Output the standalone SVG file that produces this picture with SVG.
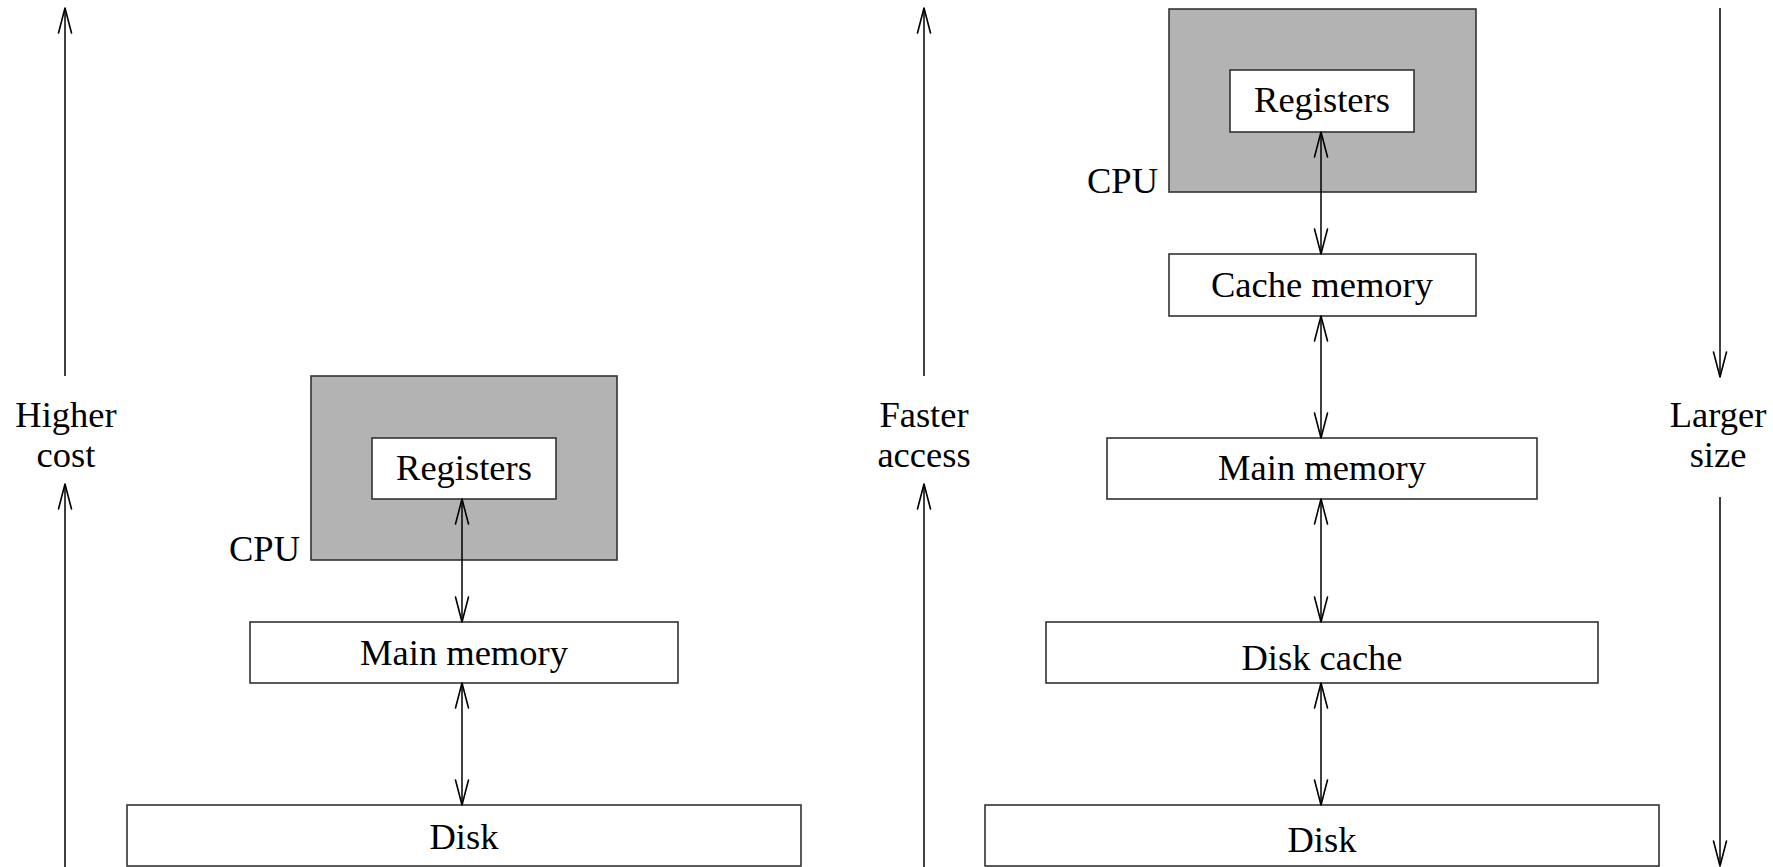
<svg xmlns="http://www.w3.org/2000/svg" width="1773" height="867" viewBox="0 0 1773 867">
<defs>
<marker id="ah" markerUnits="userSpaceOnUse" markerWidth="30" markerHeight="16" refX="0" refY="0" orient="auto-start-reverse" overflow="visible">
<path d="M-25,-6.5 L0,0 L-25,6.5" fill="none" stroke="#000" stroke-width="1.6" stroke-linejoin="round" stroke-linecap="round"/>
</marker>
</defs>
<style>
.box{fill:#fff;stroke:#333;stroke-width:1.6}
.cpu{fill:#b3b3b3;stroke:#333;stroke-width:1.6}
.t{font-family:"Liberation Serif","Times New Roman",serif;font-size:36.5px;fill:#000;text-anchor:middle}
.ts{font-family:"Liberation Serif","Times New Roman",serif;font-size:36.5px;fill:#000;text-anchor:end}
.c{stroke:#000;stroke-width:1.5;fill:none}
</style>
<rect width="1773" height="867" fill="#fff"/>

<g id="axis-cost">
<line class="c" x1="65" y1="376" x2="65" y2="8" marker-end="url(#ah)"/>
<line class="c" x1="65" y1="867" x2="65" y2="484" marker-end="url(#ah)"/>
<text class="t" x="66" y="427">Higher</text>
<text class="t" x="66" y="467">cost</text>
</g>

<g id="axis-access">
<line class="c" x1="924" y1="376" x2="924" y2="8" marker-end="url(#ah)"/>
<line class="c" x1="924" y1="867" x2="924" y2="484" marker-end="url(#ah)"/>
<text class="t" x="924" y="427">Faster</text>
<text class="t" x="924" y="467">access</text>
</g>

<g id="axis-size">
<line class="c" x1="1720" y1="8" x2="1720" y2="377" marker-end="url(#ah)"/>
<line class="c" x1="1720" y1="497" x2="1720" y2="866" marker-end="url(#ah)"/>
<text class="t" x="1718" y="427">Larger</text>
<text class="t" x="1718" y="467">size</text>
</g>

<g id="left-cpu">
<rect class="cpu" x="311" y="376" width="306" height="184"/>
<text class="ts" x="300" y="561">CPU</text>
</g>
<g id="left-registers">
<rect class="box" x="372" y="438" width="184" height="61"/>
<text class="t" x="464" y="480">Registers</text>
</g>
<g id="left-main-memory">
<rect class="box" x="250" y="622" width="428" height="61"/>
<text class="t" x="464" y="665">Main memory</text>
</g>
<g id="left-disk">
<rect class="box" x="127" y="805" width="674" height="61"/>
<text class="t" x="464" y="849">Disk</text>
</g>

<g id="right-cpu">
<rect class="cpu" x="1169" y="9" width="307" height="183"/>
<text class="ts" x="1158" y="193">CPU</text>
</g>
<g id="right-registers">
<rect class="box" x="1230" y="70" width="184" height="62"/>
<text class="t" x="1322" y="112">Registers</text>
</g>
<g id="right-cache-memory">
<rect class="box" x="1169" y="254" width="307" height="62"/>
<text class="t" x="1322" y="297">Cache memory</text>
</g>
<g id="right-main-memory">
<rect class="box" x="1107" y="438" width="430" height="61"/>
<text class="t" x="1322" y="480">Main memory</text>
</g>
<g id="right-disk-cache">
<rect class="box" x="1046" y="622" width="552" height="61"/>
<text class="t" x="1322" y="670">Disk cache</text>
</g>
<g id="right-disk">
<rect class="box" x="985" y="805" width="674" height="61"/>
<text class="t" x="1322" y="852">Disk</text>
</g>

<g id="connectors">
<line class="c" x1="462" y1="499" x2="462" y2="622" marker-start="url(#ah)" marker-end="url(#ah)"/>
<line class="c" x1="462" y1="683" x2="462" y2="805" marker-start="url(#ah)" marker-end="url(#ah)"/>
<line class="c" x1="1321" y1="132" x2="1321" y2="254" marker-start="url(#ah)" marker-end="url(#ah)"/>
<line class="c" x1="1321" y1="316" x2="1321" y2="438" marker-start="url(#ah)" marker-end="url(#ah)"/>
<line class="c" x1="1321" y1="499" x2="1321" y2="622" marker-start="url(#ah)" marker-end="url(#ah)"/>
<line class="c" x1="1321" y1="683" x2="1321" y2="805" marker-start="url(#ah)" marker-end="url(#ah)"/>
</g>
</svg>
